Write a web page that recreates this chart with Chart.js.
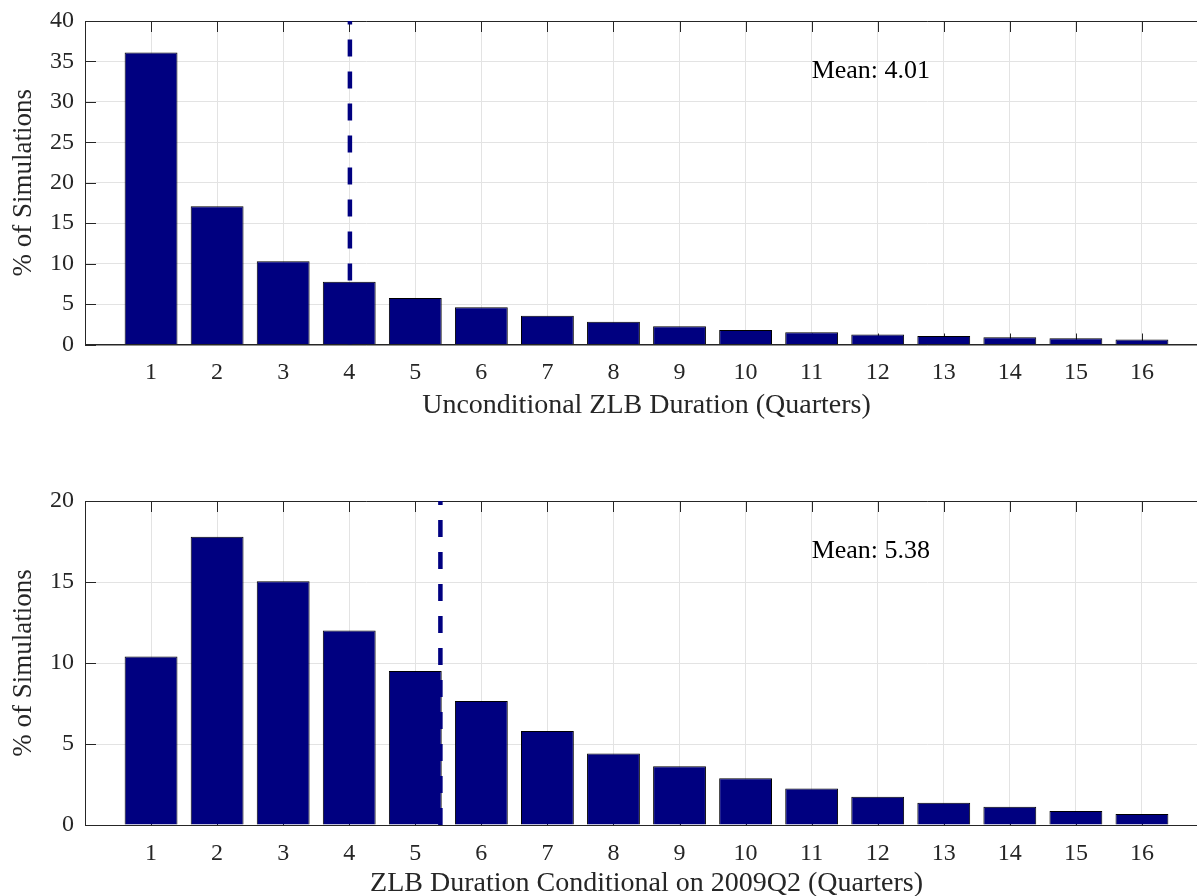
<!DOCTYPE html>
<html>
<head>
<meta charset="utf-8">
<script src="https://cdn.jsdelivr.net/npm/chart.js@4.4.1/dist/chart.umd.min.js"></script>
<style>
  html, body { margin: 0; padding: 0; background: #fff; overflow: hidden; }
  #wrap { position: relative; width: 1197px; height: 896px; overflow: hidden; }
  #wrap canvas { position: absolute; left: 0; }
</style>
</head>
<body>
<div id="wrap">
  <canvas id="uncondChart" width="1212" height="448" style="top:0"></canvas>
  <canvas id="condChart" width="1212" height="452" style="top:448px"></canvas>
</div>
<script>
// ZLB duration, quarters
const durations = [1, 2, 3, 4, 5, 6, 7, 8, 9, 10, 11, 12, 13, 14, 15, 16];
// % of simulations
const uncondShare = [36.1, 17.1, 10.3, 7.75, 5.75, 4.6, 3.55, 2.8, 2.25, 1.8, 1.5, 1.25, 1.05, 0.9, 0.78, 0.63];
const condShare = [10.4, 17.8, 15.05, 12.0, 9.5, 7.65, 5.8, 4.42, 3.63, 2.88, 2.26, 1.74, 1.38, 1.13, 0.87, 0.68];
const uncondMean = 4.01;
const condMean = 5.38;
const uncondYMax = 40;
const condYMax = 20;
const yStep = 5;

const NAVY = "#000080";
const AXIS = "#262626";
const GRID = "#e3e3e3";
const SERIF = "'Liberation Serif', 'Times New Roman', serif";

// matlab style box: inward tick marks on all four sides, plus the "Mean" note
const matlabBox = {
  id: "matlabBox",
  beforeDatasetsDraw(chart) {
    const { ctx, chartArea: a, scales: { x, y } } = chart;
    ctx.save();
    ctx.strokeStyle = AXIS;
    ctx.lineWidth = 1;
    ctx.beginPath();
    ctx.rect(a.left + 0.5, a.top + 0.5, a.right - a.left, a.bottom - a.top);
    x.ticks.forEach(t => {
      const px = Math.round(x.getPixelForValue(t.value)) + 0.5;
      ctx.moveTo(px, a.top); ctx.lineTo(px, a.top + 11);
      ctx.moveTo(px, a.bottom); ctx.lineTo(px, a.bottom - 11);
    });
    y.ticks.forEach(t => {
      const py = Math.round(y.getPixelForValue(t.value)) + 0.5;
      ctx.moveTo(a.left, py); ctx.lineTo(a.left + 11, py);
      ctx.moveTo(a.right, py); ctx.lineTo(a.right - 11, py);
    });
    ctx.stroke();
    ctx.restore();
  },
  afterDatasetsDraw(chart, args, opts) {
    if (!opts.text) return;
    const { ctx, scales: { x, y } } = chart;
    ctx.save();
    ctx.fillStyle = "#000";
    ctx.font = "26px " + SERIF;
    ctx.textAlign = "left";
    ctx.textBaseline = "alphabetic";
    ctx.fillText(opts.text, x.getPixelForValue(opts.x), y.getPixelForValue(opts.y));
    ctx.restore();
  }
};

function makeChart(id, values, mean, yMax, xTitle, topPad, xHeight, titlePad) {
  return new Chart(document.getElementById(id), {
    type: "bar",
    data: {
      datasets: [
        {
          type: "line",
          data: [{ x: mean, y: 0 }, { x: mean, y: yMax }],
          borderColor: NAVY,
          borderWidth: 4.5,
          borderDash: [17, 15],
          pointRadius: 0,
          order: 0
        },
        {
          type: "bar",
          data: durations.map((d, i) => ({ x: d, y: values[i] })),
          backgroundColor: NAVY,
          borderColor: "#000",
          borderWidth: 1,
          barPercentage: 0.8,
          categoryPercentage: 1,
          order: 1
        }
      ]
    },
    options: {
      responsive: false,
      animation: false,
      layout: { padding: { top: topPad, right: 4, left: 0, bottom: 0 } },
      plugins: {
        legend: { display: false },
        tooltip: { enabled: false },
        matlabBox: { text: "Mean: " + mean.toFixed(2), x: 11, y: yMax * 0.825 }
      },
      scales: {
        x: {
          type: "linear",
          min: 0,
          max: 17,
          offset: false,
          grid: { color: GRID, drawTicks: false, offset: false },
          border: { color: AXIS },
          ticks: {
            stepSize: 1,
            autoSkip: false,
            maxRotation: 0,
            padding: 14,
            color: AXIS,
            font: { family: SERIF, size: 24 },
            callback: v => (v >= 1 && v <= 16 ? v : "")
          },
          title: {
            display: true,
            text: xTitle,
            color: AXIS,
            font: { family: SERIF, size: 28 },
            padding: { top: 0, bottom: titlePad }
          },
          afterFit: s => {
            s.height = xHeight;
            s.paddingLeft = 0;
            s.paddingRight = 0;
          }
        },
        y: {
          min: 0,
          max: yMax,
          grid: { color: GRID, drawTicks: false },
          border: { color: AXIS },
          ticks: {
            stepSize: yStep,
            padding: 11,
            color: AXIS,
            font: { family: SERIF, size: 24 }
          },
          title: {
            display: true,
            text: "% of Simulations",
            color: AXIS,
            font: { family: SERIF, size: 27 },
            padding: { top: 8, bottom: 0 }
          },
          afterFit: s => {
            s.width = 85;
            s.paddingTop = 0;
            s.paddingBottom = 0;
          }
        }
      }
    },
    plugins: [matlabBox]
  });
}

makeChart("uncondChart", uncondShare, uncondMean, uncondYMax,
  "Unconditional ZLB Duration (Quarters)", 21, 103.5, 26);
makeChart("condChart", condShare, condMean, condYMax,
  "ZLB Duration Conditional on 2009Q2 (Quarters)", 53, 75, 0);
</script>
</body>
</html>
